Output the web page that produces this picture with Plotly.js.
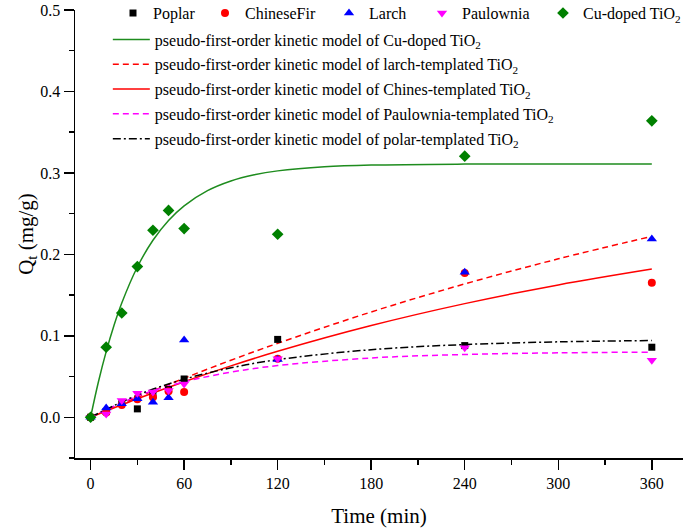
<!DOCTYPE html>
<html>
<head>
<meta charset="utf-8">
<script src="https://cdn.plot.ly/plotly-3.0.1.min.js"></script>
<style>html,body{margin:0;padding:0;background:#fff;}#chart{width:685px;height:531px;}</style>
</head>
<body>
<div id="chart"></div>
<script>
// Measured data (Time in min, Qt in mg/g)
const time = [0, 10, 20, 30, 40, 50, 60, 120, 240, 360];
const poplar = [0, 0.007, 0.018, 0.0103, 0.027, 0.034, 0.047, 0.0956, 0.088, 0.086];
const chineseFir = [0, 0.006, 0.015, 0.022, 0.0246, 0.032, 0.031, 0.072, 0.177, 0.165];
const larch = [0, 0.0115, 0.0165, 0.0226, 0.0185, 0.024, 0.095, 0.071, 0.178, 0.219];
const paulownia = [0, 0.004, 0.0205, 0.0295, 0.031, 0.033, 0.041, 0.072, 0.0853, 0.070];
const cuDoped = [0, 0.086, 0.128, 0.185, 0.2296, 0.254, 0.2317, 0.2247, 0.3206, 0.364];

// Model curves
const tCu = [0, 5, 10, 15, 20, 30, 40, 50, 60, 75, 90, 105, 120, 150, 180, 240, 300, 360];
const fitCu = [0, 0.0433, 0.0806, 0.1127, 0.1403, 0.1845, 0.2173, 0.2416, 0.2596, 0.2782, 0.2901, 0.2977, 0.3025, 0.3075, 0.3096, 0.3108, 0.311, 0.311];
const tFit = [0, 30, 60, 90, 120, 180, 240, 300, 360];
const fitLarch = [0, 0.0246, 0.0479, 0.070, 0.0908, 0.1293, 0.1637, 0.1945, 0.2221];
const fitChinese = [0, 0.0227, 0.0437, 0.0631, 0.081, 0.1126, 0.1395, 0.1625, 0.182];
const fitPaulownia = [0, 0.0259, 0.0435, 0.0554, 0.0635, 0.0728, 0.0771, 0.0791, 0.080];
const fitPolar = [0, 0.0272, 0.0467, 0.0607, 0.0707, 0.083, 0.0893, 0.0926, 0.0942];

const xTicks = [0, 60, 120, 180, 240, 300, 360];
const yTicks = [0.0, 0.1, 0.2, 0.3, 0.4, 0.5];

const FONT = 'Liberation Serif, Times New Roman, serif';
const GREEN = '#008000';

function lineTrace(x, y, name, color, dash, group) {
  return {x: x, y: y, name: name, type: 'scatter', mode: 'lines',
    line: {color: color, width: 1.5, dash: dash, shape: 'spline', smoothing: 1},
    legend: 'legend2', legendgroup: group, hoverinfo: 'skip'};
}
function markTrace(y, name, color, symbol, size, legendId) {
  return {x: time, y: y, name: name, type: 'scatter', mode: 'markers',
    marker: {color: color, symbol: symbol, size: size, line: {width: 0}},
    legend: legendId};
}

const data = [
  lineTrace(tCu, fitCu, 'pseudo-first-order kinetic model of Cu-doped TiO<sub>2</sub>', '#1e8c1e', 'solid', 'g1'),
  lineTrace(tFit, fitLarch, 'pseudo-first-order kinetic model of larch-templated TiO<sub>2</sub>', '#ff0000', '6px,4px', 'g2'),
  lineTrace(tFit, fitChinese, 'pseudo-first-order kinetic model of Chines-templated TiO<sub>2</sub>', '#ff0000', 'solid', 'g3'),
  lineTrace(tFit, fitPaulownia, 'pseudo-first-order kinetic model of Paulownia-templated TiO<sub>2</sub>', '#ff00ff', '6px,4px', 'g4'),
  lineTrace(tFit, fitPolar, 'pseudo-first-order kinetic model of polar-templated TiO<sub>2</sub>', '#000000', '8px,3px,2px,3px', 'g5'),
  markTrace(poplar, 'Poplar', '#000000', 'square', 7, 'legend'),
  markTrace(chineseFir, 'ChineseFir', '#ff0000', 'circle', 8, 'legend3'),
  markTrace(larch, 'Larch', '#0000ff', 'triangle-up', 9, 'legend4'),
  markTrace(paulownia, 'Paulownia', '#ff00ff', 'triangle-down', 9, 'legend5'),
  markTrace(cuDoped, 'Cu-doped TiO<sub>2</sub>', GREEN, 'diamond', 9, 'legend6')
];

function topLegend(x) {
  return {orientation: 'h', x: x, xanchor: 'left', y: 1.031, yanchor: 'top',
    bgcolor: 'rgba(0,0,0,0)', font: {family: FONT, size: 16}};
}

const layout = {
  width: 685, height: 531,
  margin: {l: 75, r: 2, t: 10, b: 73, autoexpand: false},
  paper_bgcolor: '#fff', plot_bgcolor: '#fff',
  font: {family: FONT, size: 16, color: '#000'},
  showlegend: true,
  xaxis: {
    range: [-10, 380], tickvals: xTicks, ticktext: xTicks.map(String),
    ticks: 'outside', ticklen: 10, tickwidth: 1.5, tickcolor: '#000',
    minor: {dtick: 30, tick0: 0, ticks: 'outside', ticklen: 5, tickwidth: 1.5, tickcolor: '#000'},
    showline: true, linewidth: 1.5, linecolor: '#000', showgrid: false, zeroline: false,
    tickfont: {family: FONT, size: 16},
    title: {text: 'Time (min)', font: {family: FONT, size: 21}, standoff: 17}
  },
  yaxis: {
    range: [-0.05, 0.5], tickvals: yTicks, ticktext: yTicks.map(v => v.toFixed(1)),
    ticks: 'outside', ticklen: 10, tickwidth: 1.5, tickcolor: '#000',
    minor: {dtick: 0.05, tick0: 0, ticks: 'outside', ticklen: 5, tickwidth: 1.5, tickcolor: '#000'},
    showline: true, linewidth: 1.5, linecolor: '#000', showgrid: false, zeroline: false,
    tickfont: {family: FONT, size: 16},
    title: {text: 'Q<sub>t</sub> (mg/g)', font: {family: FONT, size: 21}, standoff: 1}
  },
  legend: topLegend(0.0625),
  legend3: topLegend(0.2138),
  legend4: topLegend(0.4178),
  legend5: topLegend(0.5707),
  legend6: topLegend(0.7697),
  legend2: {
    orientation: 'v', x: 0.054, xanchor: 'left', y: 0.972, yanchor: 'top',
    bgcolor: 'rgba(0,0,0,0)', font: {family: FONT, size: 16},
    traceorder: 'grouped', tracegroupgap: 1, itemwidth: 37
  }
};

Plotly.newPlot('chart', data, layout, {displayModeBar: false, staticPlot: true});
</script>
</body>
</html>
